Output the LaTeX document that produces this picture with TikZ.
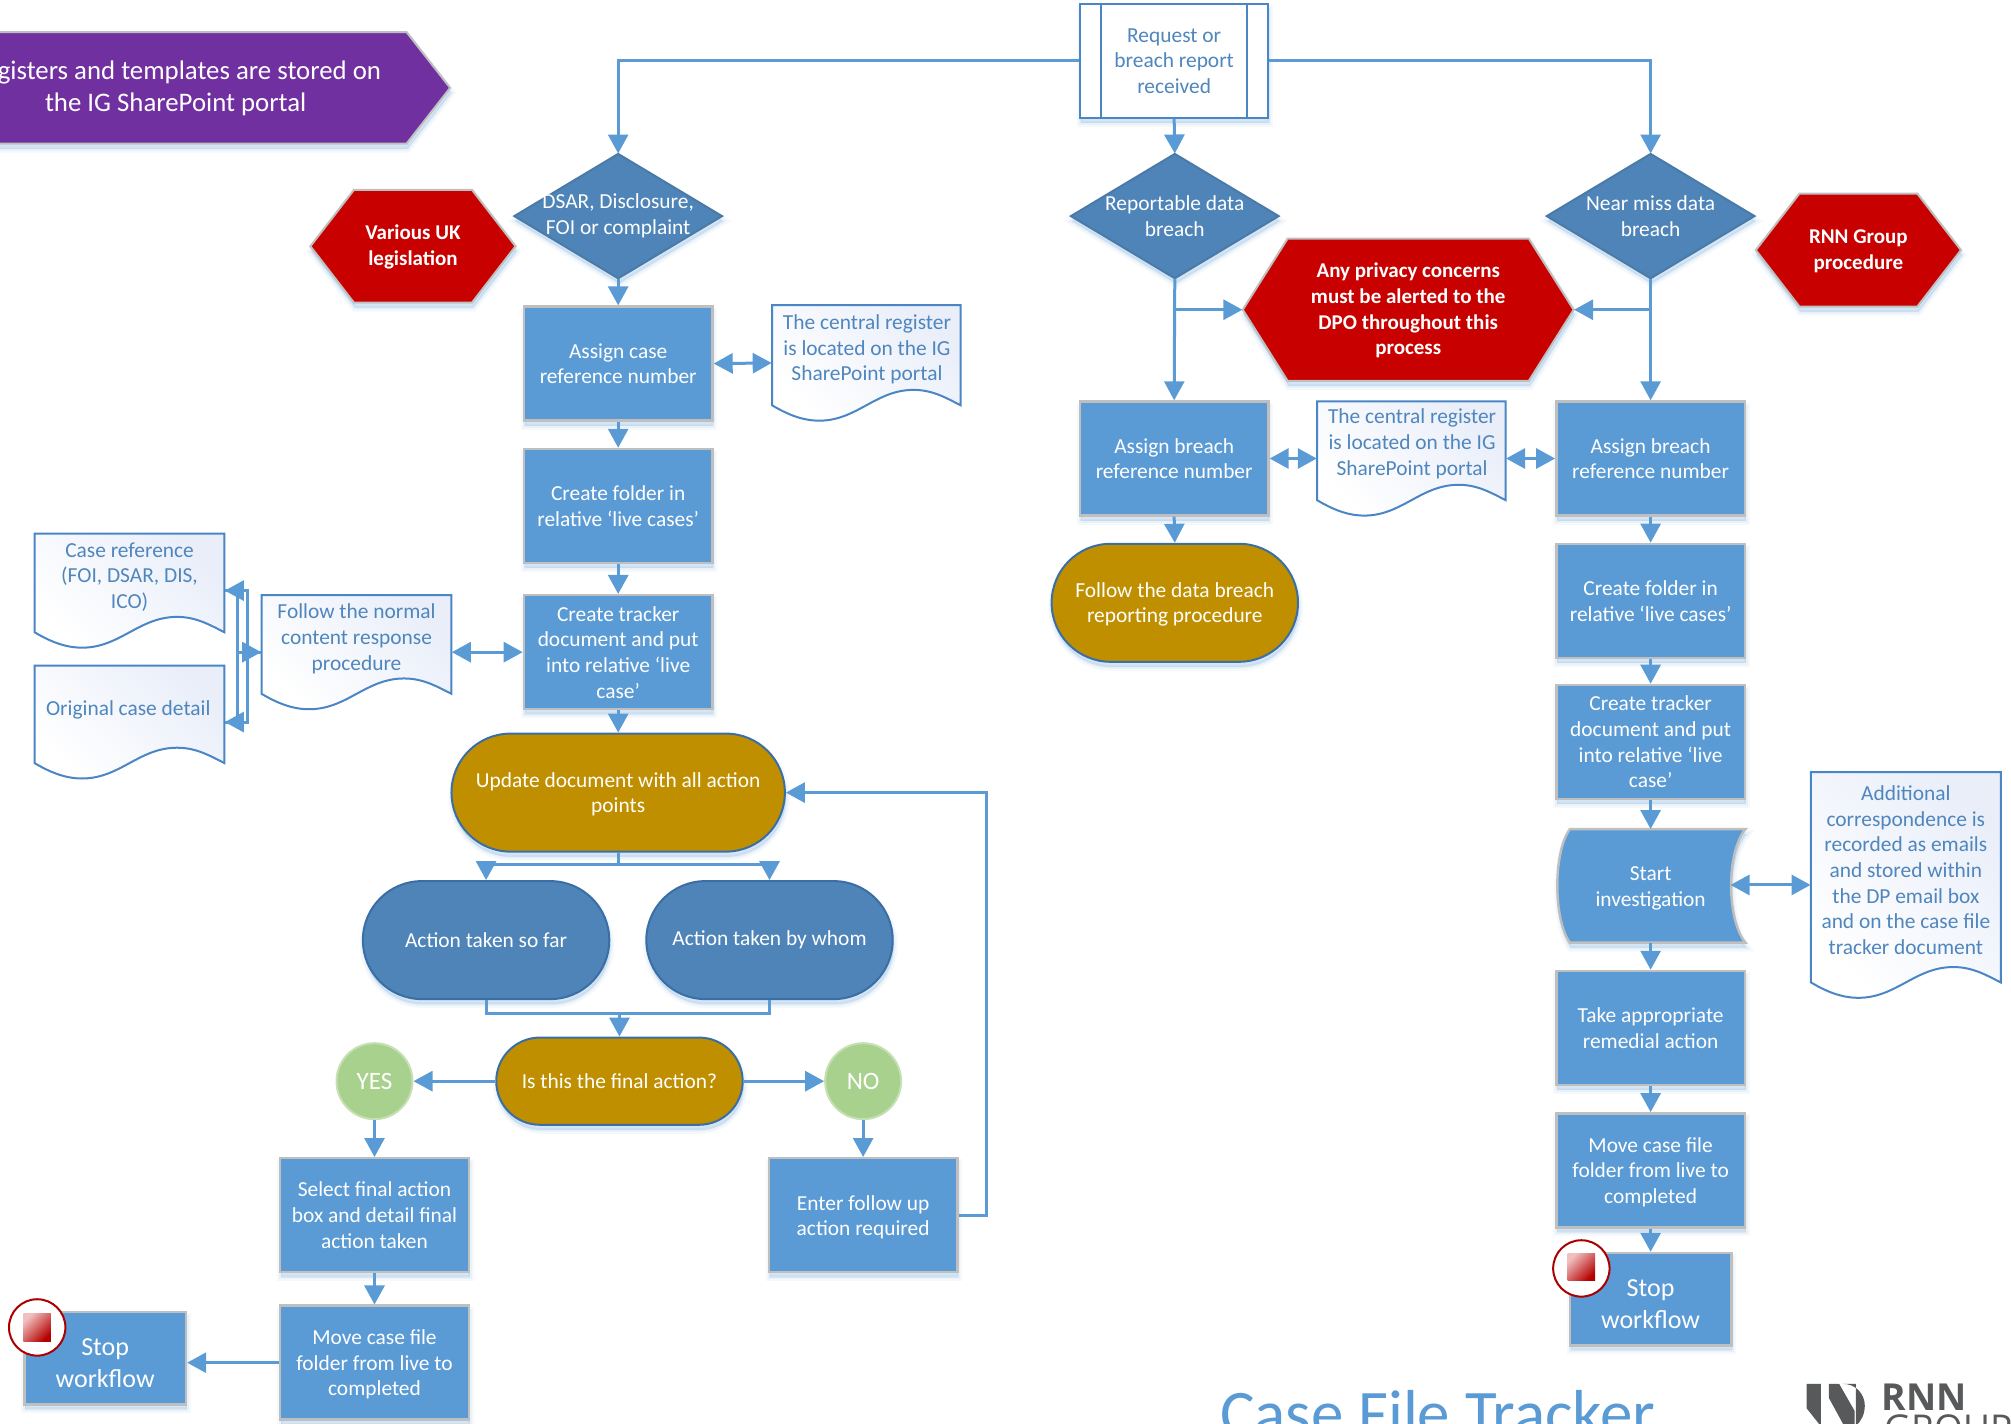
\documentclass[tikz,border=0pt]{standalone}
\usepackage{fontspec}
\setmainfont{Carlito}
\newfontfamily\logofont{Open Sans}
\usetikzlibrary{arrows.meta,shapes.misc,shapes.geometric,calc}
\definecolor{linecol}{HTML}{5B9BD5}
\definecolor{boxfill}{HTML}{5B9BD5}
\definecolor{boxedge}{HTML}{BFBFBF}
\definecolor{diafill}{HTML}{4E84B8}
\definecolor{diaedge}{HTML}{4A7AA8}
\definecolor{redfill}{HTML}{C80000}
\definecolor{purp}{HTML}{7030A0}
\definecolor{gold}{HTML}{BF8F00}
\definecolor{termedge}{HTML}{3A6EA5}
\definecolor{grn}{HTML}{A9D18E}
\definecolor{grnedge}{HTML}{C5E0B4}
\definecolor{doctext}{HTML}{4F86BD}
\definecolor{docedge}{HTML}{4A86C5}
\definecolor{docshade}{HTML}{E9EEF9}
\definecolor{docmid}{HTML}{F7F9FD}
\definecolor{shad}{HTML}{9DC3E6}
\definecolor{logo}{HTML}{58595B}
\newcommand{\dn}[1]{\rule{0pt}{#1}}
\tikzset{
  x=0.64126pt,y=-0.64126pt,
  softshadow/.style={
    preaction={draw=shad,fill=shad,opacity=.10,line width=4pt,transform canvas={xshift=.5pt,yshift=-2.5pt}},
    preaction={draw=shad,fill=shad,opacity=.14,line width=2pt,transform canvas={xshift=.5pt,yshift=-2.5pt}},
    preaction={draw=shad,fill=shad,opacity=.18,line width=.5pt,transform canvas={xshift=.5pt,yshift=-2.5pt}}},
  txt/.style={font=\fontsize{10.7}{12.83}\selectfont,align=center,inner sep=0pt},
  box/.style={txt,rectangle,text=white,fill=boxfill,draw=boxedge,line width=1.2pt,
    minimum width=94.3pt,minimum height=57pt,softshadow},
  stopbox/.style={box,minimum width=80.8pt,minimum height=46.2pt,font=\fontsize{13}{16}\selectfont},
  term/.style={txt,rounded rectangle,text=white,draw=termedge,line width=1pt,
    minimum width=123.2pt,minimum height=59pt,softshadow},
  round/.style={txt,circle,text=white,fill=grn,draw=grnedge,line width=1pt,
    minimum size=38pt,font=\fontsize{12.5}{15}\selectfont},
  stopring/.style={circle,fill=white,draw=redfill!85!black,line width=1pt,minimum size=28.2pt,inner sep=0pt},
  stopsq/.style={rectangle,draw=none,minimum size=13.8pt,inner sep=0pt,top color=white!75!redfill,bottom color=redfill!90!black,shading angle=45},
  line/.style={draw=linecol,line width=1.5pt},
  conn/.style={line,-{Triangle[length=9.5pt,width=10pt]}},
  biconn/.style={line,{Triangle[length=9.5pt,width=10pt]}-{Triangle[length=9.5pt,width=10pt]}},
  docpath/.style={shading=axis,top color=docshade,middle color=docmid,bottom color=white,shading angle=-45,draw=docedge,line width=1pt},
}
% #1 name #2 L #3 R #4 T #5 B #6 text x #7 text y #8 text
\newcommand{\mkdoc}[8]{%
  \pgfmathsetmacro{\dW}{#3-#2}\pgfmathsetmacro{\dB}{#5-12}%
  \path[docpath] (#2,#4) -- (#3,#4) -- (#3,\dB)
    .. controls ({#3-.08*\dW},{\dB-6}) and ({#3-.15*\dW},{\dB-12}) .. ({#2+.75*\dW},{\dB-12})
    .. controls ({#2+.55*\dW},{\dB-12}) and ({#2+.45*\dW},{\dB+12}) .. ({#2+.25*\dW},{\dB+12})
    .. controls ({#2+.16*\dW},{\dB+12}) and ({#2+.08*\dW},{\dB+7}) .. (#2,\dB) -- cycle;
  \node[rectangle,inner sep=0pt,minimum width={(#3-#2)*0.64126pt},minimum height={(#5-#4)*0.64126pt}] (#1) at ({(#2+#3)/2},{(#4+#5)/2}) {};
  \node[txt,text=doctext] (#1t) at (#6,#7) {#8};
}
% hexagon: #1 name #2 L #3 iL #4 iR #5 R #6 T #7 B #8 text
\newcommand{\mkhex}[8]{%
  \path[fill=redfill,draw=boxedge,line width=1pt,softshadow] (#3,#6) -- (#4,#6) -- (#5,{(#6+#7)/2}) -- (#4,#7) -- (#3,#7) -- (#2,{(#6+#7)/2}) -- cycle;
  \node[txt,rectangle,text=white,font=\bfseries\fontsize{10.5}{12.83}\selectfont,minimum width={(#5-#2)*0.64126pt},minimum height={(#7-#6)*0.64126pt}] (#1) at ({(#2+#5)/2},{(#6+#7)/2}) {\dn{8.3pt}#8};
}
% diamond: #1 name #2 cx #3 text
\newcommand{\mkdia}[3]{%
  \path[fill=diafill,draw=diaedge,line width=1pt,softshadow] (#2,120) -- ({#2+81},168.5) -- (#2,217) -- ({#2-81},168.5) -- cycle;
  \node[txt,rectangle,text=white,minimum width=103.9pt,minimum height=62.2pt] (#1) at (#2,168.5) {#3};
}
\begin{document}
\begin{tikzpicture}
\useasboundingbox (0,0) rectangle (1568,1109.6);
\clip (0,0) rectangle (1568,1109.6);
% purple banner
\path[fill=purp,draw=boxedge,line width=1pt,softshadow] (-60,25) -- (317,25) -- (351,68.5) -- (317,112) -- (-60,112) -- cycle;
\node[txt,text=white,font=\fontsize{13.4}{16}\selectfont] (banner) at (137,69) {Registers and templates are stored on\\the IG SharePoint portal};

% top row
\node[box,fill=white,text=doctext,draw=docedge,line width=1pt] (req) at (915.5,47.5) {Request or\\breach report\\received};
\draw[line,line width=1pt,docedge] ([xshift=11pt]req.north west) -- ([xshift=11pt]req.south west);
\draw[line,line width=1pt,docedge] ([xshift=-11pt]req.north east) -- ([xshift=-11pt]req.south east);
\mkdia{dsar}{482}{DSAR, Disclosure,\\FOI or complaint}
\mkdia{rep}{916}{Reportable data\\breach}
\mkdia{near}{1287}{Near miss data\\breach}
\mkhex{uk}{242}{276}{368}{402}{148}{236}{Various UK\\legislation}
\mkhex{rnn}{1369}{1403}{1495}{1529}{151}{239}{RNN Group\\procedure}
\mkhex{priv}{969}{1004}{1192}{1227}{186}{297}{Any privacy concerns\\must be alerted to the\\DPO throughout this\\process}

% left column
\node[box] (a1) at (482,283.5) {Assign case\\reference number};
\node[box] (a2) at (482,394.5) {Create folder in\\relative ‘live cases’};
\node[box] (a3) at (482,508.5) {Create tracker\\document and put\\into relative ‘live\\case’};
\mkdoc{reg1}{602}{749}{238}{328}{676}{272.5}{The central register\\is located on the IG\\SharePoint portal}
\mkdoc{caseref}{27}{175}{416}{505}{101}{450}{Case reference\\(FOI, DSAR, DIS,\\ICO)}
\mkdoc{orig}{27}{175}{519}{607}{100}{553.5}{Original case detail}
\mkdoc{fol}{204}{352}{464}{553}{278}{498}{Follow the normal\\content response\\procedure}
\node[term,fill=gold,minimum width=166.7pt] (up) at (482,618) {\dn{9pt}Update document with all action\\points};
\node[term,fill=diafill] (sofar) at (379,733) {Action taken so far};
\node[term,fill=diafill] (whom) at (600,733) {Action taken by whom};
\node[term,fill=gold,minimum height=43.6pt] (final) at (483,843) {Is this the final action?};
\node[round] (yes) at (292,843) {YES};
\node[round] (no) at (673,843) {NO};
\node[box] (sel) at (292,947.5) {Select final action\\box and detail final\\action taken};
\node[box] (ent) at (673,947.5) {\dn{9.5pt}Enter follow up\\action required};
\node[box] (mvl) at (292,1062.5) {\dn{9.2pt}Move case file\\folder from live to\\completed};
\node[stopbox] (stl) at (82,1059) {\dn{13.5pt}Stop\\workflow};
\node[stopring] (rl) at (29,1035) {};
\node[stopsq] (sl) at (29,1035) {};

% middle column
\node[box] (ab1) at (915.5,357.5) {Assign breach\\reference number};
\mkdoc{reg2}{1027}{1174}{313}{402}{1101}{346}{The central register\\is located on the IG\\SharePoint portal}
\node[term,fill=gold] (dbr) at (916,470) {\dn{9pt}Follow the data breach\\reporting procedure};

% right column
\node[box] (ab2) at (1287,357.5) {Assign breach\\reference number};
\node[box] (b2) at (1287,468.5) {Create folder in\\relative ‘live cases’};
\node[box] (b3) at (1287,578.5) {Create tracker\\document and put\\into relative ‘live\\case’};
\path[fill=boxfill,draw=boxedge,line width=1.2pt,softshadow] (1224,646.5) -- (1361,646.5) .. controls (1346,664) and (1346,717) .. (1361,735) -- (1224,735) .. controls (1211,717) and (1211,664) .. (1224,646.5) -- cycle;
\node[txt,rectangle,text=white,minimum width=79.5pt,minimum height=56.8pt] (inv) at (1287,691) {\dn{9pt}Start\\investigation};
\mkdoc{add}{1412}{1560}{602}{778}{1486}{678.5}{Additional\\correspondence is\\recorded as emails\\and stored within\\the DP email box\\and on the case file\\tracker document}
\node[box] (rem) at (1287,801.5) {Take appropriate\\remedial action};
\node[box] (mvr) at (1287,912.5) {\dn{9.2pt}Move case file\\folder from live to\\completed};
\node[stopbox] (str) at (1287,1013) {\dn{13.5pt}Stop\\workflow};
\node[stopring] (rr) at (1233,989) {};
\node[stopsq] (sr) at (1233,988) {};

% connectors
\draw[conn] (req.west) -| (dsar.north);
\draw[conn] (req.east) -| (near.north);
\draw[conn] (req.south) -- (rep.north);
\draw[conn] (dsar.south) -- (a1.north);
\draw[biconn] (a1.east) -- (reg1.west);
\draw[conn] (a1.south) -- (a2.north);
\draw[conn] (a2.south) -- (a3.north);
\draw[biconn] (a3.west) -- (fol.east);
\draw[conn] (a3.south) -- (up.north);
\coordinate (br1) at (185.5,508.5);
\coordinate (br2) at (193,508.5);
\draw[conn] (fol.west) -- (br2) |- (caseref.east);
\draw[conn] (fol.west) -- (br2) |- (orig.east);
\draw[line] (caseref.east) -| (br1);
\draw[line] (orig.east) -| (br1);
\draw[conn] (br1) -- (fol.west);
\coordinate (split) at (482,674);
\draw[line] (up.south) -- (split);
\draw[conn] (split) -| (sofar.north);
\draw[conn] (split) -| (whom.north);
\coordinate (merge) at (483,790);
\draw[line] (sofar.south) |- (merge) -| (whom.south);
\draw[conn] (merge) -- (final.north);
\draw[conn] (final.west) -- (yes.east);
\draw[conn] (final.east) -- (no.west);
\draw[conn] (yes.south) -- (sel.north);
\draw[conn] (no.south) -- (ent.north);
\draw[conn] (ent.east) -- ++(22,0) |- (up.east);
\draw[conn] (sel.south) -- (mvl.north);
\draw[conn] (mvl.west) -- (mvl.west -| stl.east);
\draw[conn] (rep.south) -- (ab1.north);
\draw[conn] (rep.south |- priv.west) -- (priv.west);
\draw[conn] (near.south) -- (ab2.north);
\draw[conn] (near.south |- priv.east) -- (priv.east);
\draw[conn] (ab1.south) -- (dbr.north);
\draw[biconn] (ab1.east) -- (reg2.west);
\draw[biconn] (reg2.east) -- (ab2.west);
\draw[conn] (ab2.south) -- (b2.north);
\draw[conn] (b2.south) -- (b3.north);
\draw[conn] (b3.south) -- (inv.north);
\draw[biconn] (inv.east |- add.west) -- (add.west);
\draw[conn] (inv.south) -- (rem.north);
\draw[conn] (rem.south) -- (mvr.north);
\draw[conn] (mvr.south) -- (str.north);

% title and logo
\node[anchor=base west,inner sep=0pt,text=linecol,font=\fontsize{32.5}{34}\selectfont] (title) at (951,1119) {Case File Tracker};
\fill[logo] (1408.6,1079) -- (1419.7,1079) -- (1419.7,1112) -- (1408.6,1098) -- cycle;
\fill[logo] (1426,1079) -- (1434,1079) -- (1446,1100) -- (1446,1112) -- (1438,1112) -- (1426,1090) -- cycle;
\fill[logo] (1437,1079) .. controls (1447,1079) and (1454,1087) .. (1454,1096) .. controls (1454,1103) and (1451,1108) .. (1447,1112) -- (1447,1079) -- cycle;
\node[anchor=base west,inner sep=0pt,text=logo,font=\logofont\bfseries\fontsize{18.6}{18}\selectfont] (rnnlogo) at (1467,1099.5) {RNN};
\node[anchor=base west,inner sep=0pt,text=logo,font=\logofont\fontsize{18.5}{19}\selectfont] (grouplogo) at (1469,1123.6) {GROUP};
\end{tikzpicture}
\end{document}
